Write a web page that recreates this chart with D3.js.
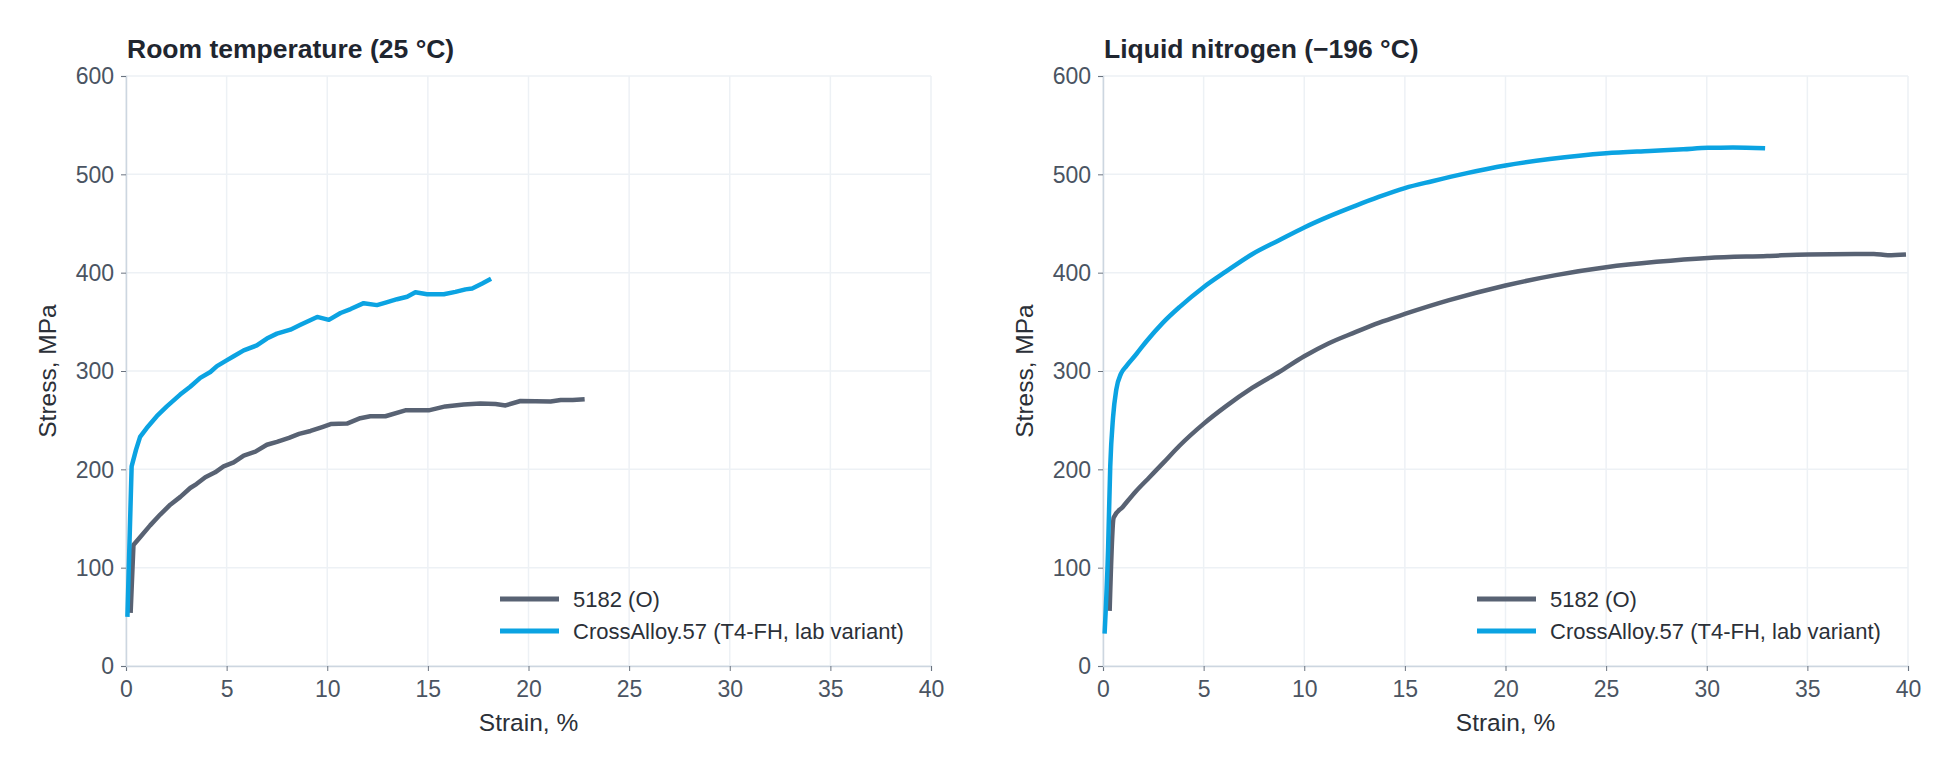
<!DOCTYPE html>
<html>
<head>
<meta charset="utf-8">
<script src="https://cdn.jsdelivr.net/npm/d3@7"></script>
<style>
  html, body { margin: 0; padding: 0; background: #ffffff; }
  svg { display: block; font-family: "Liberation Sans", Arial, Helvetica, sans-serif; }
</style>
</head>
<body>
<svg id="chart" width="1960" height="775"></svg>
<script>
// ---------- Data ----------
const panelTitles = ["Room temperature (25 \u00B0C)", "Liquid nitrogen (\u2212196 \u00B0C)"];
const seriesNames = ["5182 (O)", "CrossAlloy.57 (T4-FH, lab variant)"];
const seriesColors = ["#586273", "#0ba3e2"];
const xTicks = [0, 5, 10, 15, 20, 25, 30, 35, 40];
const yTicks = [0, 100, 200, 300, 400, 500, 600];

// Room temperature, 5182 (O)
const rt5182Strain = [0.23, 0.37, 0.7, 1.2, 1.7, 2.2, 2.7, 3.19, 3.5, 3.94, 4.43, 4.85, 5.35, 5.85, 6.43, 7.0, 7.5, 8.1, 8.6, 9.17, 9.75, 10.17, 10.98, 11.64, 12.14, 12.89, 13.88, 15.04, 15.87, 16.78, 17.61, 18.36, 18.86, 19.6, 21.1, 21.6, 22.2, 22.79];
const rt5182Stress = [54, 123, 131, 143, 154, 164, 172, 181, 185, 192, 197, 203, 207, 214, 218, 225, 228, 232, 236, 239, 243, 246, 246.5, 252, 254, 254, 260, 260, 264, 266, 267, 266.5, 265, 269.5, 269, 270.5, 270.5, 271.3];

// Room temperature, CrossAlloy.57
const rtCaStrain = [0.07, 0.28, 0.5, 0.7, 1.03, 1.53, 2.03, 2.69, 3.19, 3.69, 4.19, 4.52, 5.02, 5.35, 5.85, 6.5, 7.0, 7.5, 8.17, 8.67, 9.5, 10.08, 10.66, 11.16, 11.81, 12.47, 12.9, 13.47, 13.97, 14.38, 14.96, 15.79, 16.37, 16.87, 17.2, 17.7, 18.14];
const rtCaStress = [50, 203, 220, 233, 242, 254, 264, 276, 284, 293, 299, 305, 311, 315, 321, 326, 333, 338, 342, 347, 355, 352, 359, 363, 369, 367, 369.5, 373, 375.5, 380, 378, 378, 380.5, 383, 384, 389, 393.7];

// Liquid nitrogen, 5182 (O)
const ln5182Strain = [0.33, 0.53, 0.99, 1.65, 2.31, 2.97, 3.8, 4.98, 6.1, 7.43, 8.75, 10.0, 11.2, 12.54, 13.7, 15.0, 17.2, 20.0, 22.5, 25.0, 27.5, 30.06, 33.0, 35.05, 38.3, 39.0, 39.9];
const ln5182Stress = [56, 151, 162, 178, 192, 206, 224, 246, 264, 283, 299, 315, 328, 339.5, 349, 358, 372, 387, 397.5, 405.5, 411, 415, 417, 418.5, 419, 417.8, 418.5];

// Liquid nitrogen, CrossAlloy.57
const lnCaStrain = [0.08, 0.25, 0.36, 0.5, 0.66, 0.9, 1.16, 1.65, 2.15, 2.97, 3.8, 4.98, 6.1, 7.43, 8.75, 10.0, 11.2, 12.54, 13.7, 15.0, 16.36, 18.03, 20.0, 22.2, 25.0, 27.17, 28.83, 30.06, 31.3, 32.9];
const lnCaStress = [33, 117, 203, 253, 281, 297.5, 305, 317, 330, 349, 365, 385, 401, 419, 433, 446, 457, 468, 477, 486, 493, 501, 509, 515.5, 521.4, 523.8, 525.5, 527, 527.2, 526.5];

const panels = [
  { title: panelTitles[0], smooth: false, series: [[rt5182Strain, rt5182Stress], [rtCaStrain, rtCaStress]] },
  { title: panelTitles[1], smooth: true, series: [[ln5182Strain, ln5182Stress], [lnCaStrain, lnCaStress]] }
];

// ---------- Layout ----------
const plotLefts = [126, 1103];
const plotW = 805;
const plotTop = 76, plotBottom = 666;

const svg = d3.select("#chart");

panels.forEach((p, i) => {
  const x0 = plotLefts[i];
  const x = d3.scaleLinear().domain([0, 40]).range([x0, x0 + plotW]);
  const y = d3.scaleLinear().domain([0, 600]).range([plotBottom, plotTop]);
  const g = svg.append("g");

  // gridlines
  g.append("g").selectAll("line").data(xTicks).join("line")
    .attr("x1", d => x(d)).attr("x2", d => x(d))
    .attr("y1", plotTop).attr("y2", plotBottom)
    .attr("stroke", "#edf1f5").attr("stroke-width", 1.5);
  g.append("g").selectAll("line").data(yTicks).join("line")
    .attr("x1", x0).attr("x2", x0 + plotW)
    .attr("y1", d => y(d)).attr("y2", d => y(d))
    .attr("stroke", "#edf1f5").attr("stroke-width", 1.5);

  // axes
  const xAxis = d3.axisBottom(x).tickValues(xTicks).tickSize(5).tickPadding(7).tickFormat(d3.format("d"));
  const yAxis = d3.axisLeft(y).tickValues(yTicks).tickSize(5).tickPadding(7).tickFormat(d3.format("d"));

  const gx = g.append("g").attr("transform", `translate(0,${plotBottom})`).call(xAxis);
  const gy = g.append("g").attr("transform", `translate(${x0},0)`).call(yAxis);
  [gx, gy].forEach(a => {
    a.select(".domain").attr("stroke", "#cdd6e0").attr("stroke-width", 1.5);
    a.selectAll(".tick line").attr("stroke", "#6b7480").attr("stroke-width", 1);
    a.selectAll(".tick text").attr("fill", "#4a5462").style("font-size", "23px")
      .style("font-family", '"Liberation Sans", Arial, sans-serif');
  });
  gx.selectAll(".tick text").attr("dy", "0.82em");
  gy.selectAll(".tick text").attr("dy", "0.34em");

  // lines
  const line = d3.line().x(d => x(d[0])).y(d => y(d[1]))
    .curve(p.smooth ? d3.curveMonotoneX : d3.curveLinear);
  p.series.forEach((s, k) => {
    const pts = s[0].map((v, j) => [v, s[1][j]]);
    g.append("path").datum(pts)
      .attr("d", line)
      .attr("fill", "none")
      .attr("stroke", seriesColors[k])
      .attr("stroke-width", 4.5)
      .attr("stroke-linejoin", "round")
      .attr("stroke-linecap", "butt");
  });

  // title
  g.append("text").attr("x", x0 + 1).attr("y", 58)
    .text(p.title)
    .attr("fill", "#1f2630").style("font-size", "26.5px").style("font-weight", "bold");

  // axis titles
  g.append("text").attr("x", x0 + plotW / 2).attr("y", 731)
    .attr("text-anchor", "middle").text("Strain, %")
    .attr("fill", "#2b3038").style("font-size", "24.5px");
  g.append("text").attr("transform", `translate(${x0 - 70},${(plotTop + plotBottom) / 2}) rotate(-90)`)
    .attr("text-anchor", "middle").text("Stress, MPa")
    .attr("fill", "#2b3038").style("font-size", "24.5px");

  // legend
  const lg = g.append("g").attr("transform", `translate(${x0 + 374},599)`);
  seriesNames.forEach((n, k) => {
    lg.append("line").attr("x1", 0).attr("x2", 59).attr("y1", k * 32).attr("y2", k * 32)
      .attr("stroke", seriesColors[k]).attr("stroke-width", 5);
    lg.append("text").attr("x", 73).attr("y", k * 32).attr("dy", "0.35em")
      .text(n).attr("fill", "#2b3038").style("font-size", "22px");
  });
});
</script>
</body>
</html>
